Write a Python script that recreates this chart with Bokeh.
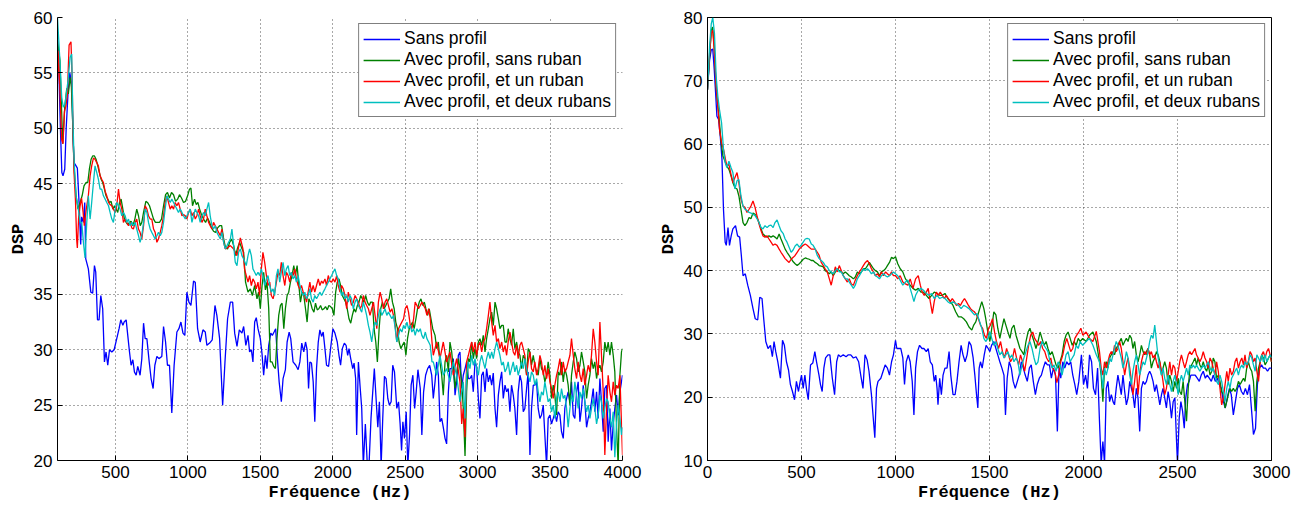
from bokeh.plotting import figure
from bokeh.models import FixedTicker, Legend, LegendItem, Range1d
from bokeh.layouts import row
from bokeh.embed import file_html
from bokeh.resources import INLINE

# ---------------- data ----------------
NAMES = ["Sans profil", "Avec profil, sans ruban", "Avec profil, et un ruban", "Avec profil, et deux rubans"]
COLORS = ["#0000ff", "#008000", "#ff0000", "#00bfbf"]

LEFT_XTICKS = [500, 1000, 1500, 2000, 2500, 3000, 3500, 4000]
LEFT_YTICKS = [20, 25, 30, 35, 40, 45, 50, 55, 60]
RIGHT_XTICKS = [0, 500, 1000, 1500, 2000, 2500, 3000]
RIGHT_YTICKS = [10, 20, 30, 40, 50, 60, 70, 80]

# left panel (frequency Hz, DSP)
L_SANS = [(100,58),(110,55),(120,50),(130,46),(138,45.7),(150,46.3),(160,50),(172,53),(185,55),(198,54),(208,49),(214,46.9),(228,46.6),(237,46.4),(250,43),(260,39.5),(267,42),(279,41.5),(288,43.3),(295,38.2),(313,37.3),(330,35.2),(343,35.1),(355,37.6),(364,37),(376,32.7),(387,32.7),(399,34.9),(412,33.7),(424,28.9),(435,29.8),(447,28.6),(459,30),(475,29.8),(491,30),(509,31),(525,31.9),(537,32.7),(551,32.2),(560,32.5),(574,32.7),(585,31.3),(597,29.8),(608,28.6),(620,29.1),(631,28),(643,27.7),(654,28.5),(670,27.7),(682,29.2),(694,32.4),(705,31),(717,31),(733,28.9),(746,27.4),(760,26.5),(772,28.6),(786,29.4),(800,29.2),(820,29.4),(832,32.1),(846,30.7),(859,28.6),(873,28.6),(889,24.3),(905,28.6),(924,31.6),(938,31.9),(952,32.5),(966,31.5),(979,31.3),(993,35.2),(1007,34.3),(1021,34),(1039,36.2),(1051,36.1),(1067,31.9),(1085,30.7),(1104,31.8),(1120,31.6),(1131,30.4),(1150,30.6),(1168,30.9),(1187,34),(1200,33.1),(1219,31),(1240,25),(1256,28.9),(1274,32.8),(1293,34.3),(1309,34.3),(1323,31.5),(1339,30.3),(1355,31.8),(1373,31.5),(1385,32.1),(1400,30.4),(1415,31.3),(1426,29.8),(1438,30),(1449,28.9),(1461,32.5),(1472,32.9),(1484,31.9),(1500,31),(1512,29.6),(1523,27.7),(1535,29.5),(1546,28.3),(1558,30.4),(1572,31.5),(1583,31.3),(1595,31.6),(1606,31.9),(1618,29.2),(1630,27.1),(1645,25.3),(1657,27.4),(1673,28.2),(1685,30.7),(1699,31.6),(1710,31),(1726,28.9),(1745,28.6),(1761,28.2),(1773,28.9),(1786,30.6),(1800,29.8),(1812,30.7),(1823,30),(1833,26.5),(1842,28.9),(1853,28.8),(1865,27.1),(1876,23.5),(1888,28.3),(1900,30.7),(1911,31.8),(1923,31.2),(1934,31.6),(1946,30.1),(1957,28.6),(1971,28.5),(1985,30.1),(2001,31.9),(2015,31.5),(2031,30.7),(2043,29.5),(2054,28.6),(2066,30.1),(2080,30.6),(2092,30.4),(2103,29.5),(2112,30.1),(2124,29.2),(2138,28.3),(2147,28.8),(2158,27.4),(2165,22.3),(2177,28.9),(2188,26.8),(2200,24.7),(2211,19.5),(2225,23.3),(2239,19.5),(2250,19.5),(2264,23.8),(2276,26.2),(2287,28.3),(2299,25.6),(2311,23),(2322,25.3),(2334,19.5),(2345,23.8),(2357,27.6),(2368,27.4),(2380,25.6),(2391,25),(2403,25.3),(2414,28.6),(2426,28),(2442,24.7),(2454,25.3),(2465,23.3),(2475,20.9),(2484,23.5),(2495,22),(2507,24.4),(2518,19.5),(2530,22.3),(2541,26.8),(2553,27.7),(2565,24.7),(2576,26.2),(2588,28.2),(2604,26.5),(2615,22.3),(2627,26.2),(2641,27.7),(2655,28.3),(2669,28.6),(2683,27.7),(2694,25.6),(2706,27.1),(2717,28.9),(2729,27.7),(2740,23.5),(2752,23.8),(2763,23),(2775,22),(2786,21.5),(2798,26.2),(2809,28.3),(2821,28.3),(2832,29.2),(2844,25.9),(2855,27.1),(2867,29.5),(2878,29.8),(2890,26.5),(2901,27.7),(2913,28.3),(2924,28.9),(2936,27.4),(2947,27.4),(2959,27.7),(2970,26.2),(2982,28.9),(2993,28.5),(3005,25.6),(3016,23.8),(3028,27.7),(3039,28),(3051,26.2),(3062,28.3),(3074,27.1),(3085,27.7),(3097,26.8),(3108,27.9),(3120,24.7),(3131,23),(3143,25.9),(3154,27.1),(3166,28),(3177,25.6),(3189,26.8),(3200,26.2),(3211,26.5),(3223,24.4),(3234,26.8),(3246,25.9),(3257,24.7),(3269,22.3),(3280,26.2),(3292,27.7),(3303,27.1),(3315,24.4),(3326,24.7),(3338,26.5),(3349,28),(3361,20.5),(3372,24.7),(3384,26.8),(3395,26.8),(3407,27.1),(3418,24.7),(3430,23.8),(3441,24.1),(3453,25),(3464,22.3),(3476,19.5),(3487,23.8),(3499,24.1),(3510,23.3),(3522,23.8),(3533,24.3),(3545,23.5),(3556,24.4),(3568,24.1),(3579,22.6),(3591,22),(3602,24.7),(3614,25.6),(3625,26.2),(3637,25.3),(3648,27.1),(3660,24.1),(3671,23.8),(3683,26.2),(3694,27.1),(3706,23.5),(3717,24.7),(3729,26.8),(3740,25.3),(3752,23),(3763,23.8),(3775,24.4),(3786,25.3),(3798,26.5),(3809,24.4),(3821,26.2),(3832,23.8),(3844,27.4),(3855,25.3),(3867,22.6),(3878,26.5),(3890,26.8),(3901,21.7),(3913,24.7),(3924,20.9),(3936,23.3),(3947,24.7),(3959,25.9),(3970,24.1),(3982,26.2),(4000,27.7)]

L_SANS_RUBAN = [(100,57.9),(117,56.1),(136,48.6),(150,51.9),(164,53.6),(175,53.1),(187,54.6),(196,53.7),(205,50.4),(214,46.6),(228,43.9),(242,42.7),(256,43.3),(270,43.9),(283,44.8),(297,45.1),(309,45.1),(320,46.3),(332,47.2),(343,47.5),(355,47.5),(366,47.2),(378,46.6),(389,46),(401,45.4),(412,45.1),(424,44.5),(435,43.9),(447,43.6),(459,43.3),(470,43.4),(482,42.7),(493,43),(505,42.7),(516,42.4),(528,43.3),(539,43.6),(551,42.7),(562,41.8),(574,41.5),(585,41.3),(597,41.5),(608,41.6),(620,41.2),(634,41.8),(647,42.7),(659,42.1),(671,41.2),(682,41.5),(694,42.4),(710,43.4),(721,43.3),(735,43),(749,42.4),(763,41.8),(776,41.5),(790,41.5),(804,41.5),(818,41.8),(832,43),(846,44),(859,44.2),(873,43.7),(887,44.2),(901,44),(915,43.4),(929,43.6),(942,44),(956,43.7),(970,43.3),(984,43.4),(998,43.9),(1011,44.5),(1021,44.6),(1032,43),(1046,43.6),(1058,43.1),(1069,43.3),(1081,42.7),(1094,42.2),(1108,41.8),(1122,41.5),(1136,41.9),(1150,41.5),(1164,41),(1177,40.7),(1191,40.6),(1205,41),(1219,41.2),(1233,41.2),(1247,40),(1260,39.2),(1274,39.1),(1288,39.7),(1302,40),(1316,39.4),(1329,38.5),(1343,39.2),(1357,39.7),(1371,39.2),(1385,38.8),(1398,36.1),(1415,35.2),(1431,35.5),(1445,34.9),(1461,35.8),(1477,34.6),(1488,35.2),(1500,33.7),(1512,35.8),(1523,37),(1535,35.4),(1546,36.1),(1558,33.7),(1569,28.9),(1581,28.9),(1592,28.5),(1604,28.3),(1615,31),(1627,33.1),(1639,34),(1650,34.2),(1662,31.9),(1673,33.7),(1685,34.9),(1696,35.2),(1708,36.1),(1719,36.7),(1731,37.6),(1742,36.7),(1754,37.6),(1766,35.8),(1777,34.3),(1789,35.2),(1800,34.9),(1812,33.7),(1823,32.5),(1835,34.6),(1846,34.3),(1858,33.7),(1870,33.4),(1881,34.2),(1893,33.6),(1904,33.7),(1916,34),(1927,33.6),(1939,33.7),(1950,33.9),(1962,33.6),(1973,34),(1985,33.9),(1997,33.7),(2008,33.1),(2020,35.2),(2031,36.1),(2043,36.4),(2054,35.8),(2066,34.9),(2077,34.6),(2089,34.3),(2100,33.7),(2112,32.8),(2124,32.4),(2135,33.1),(2147,33.7),(2158,33.4),(2170,34),(2181,34.3),(2193,34.9),(2204,34.6),(2216,34.3),(2227,34.9),(2239,34.3),(2251,34),(2262,34.3),(2274,34.3),(2285,31.9),(2297,30.7),(2308,28.9),(2320,31.9),(2331,33.7),(2343,34.3),(2354,33.7),(2366,34),(2377,34.3),(2389,34.6),(2400,35.5),(2412,34.3),(2424,33.7),(2435,32.5),(2447,31.9),(2458,30.7),(2470,30.1),(2481,30.4),(2493,30.7),(2505,29.5),(2516,31),(2528,31.9),(2539,32.2),(2551,32.5),(2562,31.9),(2574,32.8),(2585,33.7),(2597,34.3),(2609,34.6),(2620,34),(2632,34.3),(2643,33.7),(2655,33.1),(2666,33.7),(2678,32.8),(2690,31.9),(2706,31.3),(2717,30.1),(2729,30.7),(2740,28.9),(2752,27.7),(2763,25.9),(2775,28.9),(2786,29.5),(2798,28),(2809,30.7),(2821,29.8),(2832,28.3),(2844,26.5),(2855,27.7),(2867,29.2),(2878,28.3),(2890,27.1),(2901,24.7),(2913,20.4),(2924,26.2),(2936,29.2),(2947,28.9),(2959,30.7),(2970,29.2),(2982,30.1),(2993,29.2),(3005,30.7),(3016,31),(3028,30.4),(3039,31.3),(3051,29.8),(3062,31),(3074,31.9),(3085,32.8),(3097,33.4),(3108,32.2),(3120,34.3),(3131,33.7),(3143,32.8),(3154,31.9),(3166,32.2),(3177,32.2),(3189,30.7),(3200,30.7),(3211,31.9),(3223,31),(3234,30.4),(3246,31.9),(3257,30.1),(3269,30.7),(3280,29.8),(3292,29.5),(3303,28.3),(3315,29.5),(3326,29.2),(3338,27.7),(3349,30.1),(3361,29.8),(3372,28.6),(3384,29.5),(3395,28.6),(3407,28),(3418,27.7),(3430,29.2),(3441,28.3),(3453,28),(3464,27.1),(3476,27.7),(3487,28.9),(3499,27.7),(3510,25.6),(3522,26.8),(3533,25.9),(3545,24.1),(3556,28),(3568,27.7),(3579,28.9),(3591,27.1),(3602,28.3),(3614,27.7),(3625,26.8),(3637,25),(3648,27.7),(3660,28.9),(3671,29.8),(3683,29.2),(3694,28),(3706,28.6),(3717,29.8),(3729,28.9),(3740,28),(3752,25.6),(3763,26.8),(3775,27.7),(3786,29.2),(3798,28.3),(3809,28.9),(3821,27.4),(3832,28.3),(3844,28.6),(3855,28),(3867,28.9),(3878,30.7),(3890,29.8),(3901,30.7),(3913,29.5),(3924,30.7),(3936,29.5),(3947,28),(3959,23),(3970,19.5),(3982,27.7),(3993,29.8),(4000,30.1)]

L_UN_RUBAN = [(100,54),(108,57),(118,53),(128,49),(138,48.6),(148,51.5),(158,52),(168,53),(180,57.5),(193,57.8),(200,55),(207,50),(214,46),(224,43.5),(232,40),(237,39.2),(246,42),(256,43),(266,43.7),(276,42.5),(285,41.2),(290,41.8),(302,43),(313,43.9),(325,45.7),(336,46.6),(348,47.3),(359,47.2),(371,46.9),(382,46.6),(394,45.7),(405,45.4),(417,45.1),(429,44.3),(440,43.9),(452,43.3),(463,43.1),(475,43),(486,42.7),(498,42.4),(509,43),(521,44.5),(532,43.3),(544,42.7),(555,41.5),(567,41.8),(578,41.5),(590,41.2),(601,41.5),(613,41),(624,40.9),(636,41.5),(647,41.8),(659,40.9),(670,40.6),(682,40),(694,41.2),(705,43),(717,42.7),(728,42.1),(740,41.8),(751,41.8),(763,40.9),(774,40.6),(786,39.7),(797,40),(809,40.6),(820,41.2),(832,42.1),(843,43.3),(855,43.9),(866,43.3),(878,42.7),(889,43),(901,42.7),(912,43.3),(924,43),(935,43.3),(947,42.7),(959,42.1),(970,42.2),(982,42.1),(993,41.8),(1005,42.4),(1016,42.7),(1028,42.1),(1039,42.4),(1051,41.8),(1062,42.1),(1074,42.7),(1085,42.1),(1097,41.5),(1108,41.8),(1120,42.7),(1131,42.1),(1143,41.5),(1154,41.2),(1166,40.9),(1177,41.5),(1189,41.2),(1200,40.9),(1212,40.6),(1224,40.3),(1235,40.9),(1247,39.7),(1258,39.1),(1270,39.2),(1293,39.4),(1316,39.1),(1339,38.5),(1362,40.1),(1380,39.1),(1391,37.3),(1403,36.7),(1415,36.1),(1426,36.7),(1438,35.8),(1449,36.4),(1461,36.1),(1472,35.5),(1484,36.1),(1495,34.9),(1507,37.3),(1518,38.8),(1530,37.9),(1542,36.7),(1553,35.8),(1565,36.1),(1576,34.9),(1588,34.6),(1599,35.2),(1611,36.1),(1622,37),(1634,36.7),(1645,37.9),(1657,36.7),(1669,35.8),(1680,37),(1692,36.7),(1703,36.1),(1715,37),(1726,36.7),(1738,37.3),(1749,36.4),(1761,35.8),(1773,35.5),(1784,35.8),(1796,35.2),(1807,34.9),(1819,34.3),(1830,35.2),(1842,36.1),(1853,35.2),(1865,35.8),(1876,35.2),(1888,35.8),(1900,36.4),(1911,35.8),(1923,36.2),(1934,36),(1946,36.4),(1957,35.8),(1969,36.7),(1980,36.2),(1992,36.1),(2003,36.4),(2015,36.1),(2027,36.7),(2038,35.8),(2050,35.2),(2061,35.8),(2073,35.5),(2084,34.9),(2096,33.7),(2107,35.2),(2119,34.6),(2130,34),(2142,34.3),(2154,34.9),(2165,34.6),(2177,34.3),(2188,33.7),(2200,34),(2211,34.9),(2223,34.3),(2234,34),(2246,33.7),(2257,33.1),(2269,33.7),(2281,34.3),(2292,33.1),(2304,31.9),(2315,34.3),(2327,35.2),(2338,34.6),(2350,33.7),(2361,34.3),(2373,34.6),(2384,34),(2396,33.4),(2408,33.7),(2419,33.1),(2431,32.2),(2442,30.7),(2454,31.9),(2465,32.2),(2477,32.5),(2489,32.8),(2500,33.7),(2512,34),(2523,33.4),(2535,32.2),(2546,31.9),(2558,32.8),(2569,34.3),(2581,34),(2592,33.7),(2604,34),(2615,34.3),(2627,34),(2639,33.7),(2650,33.1),(2662,33.7),(2673,32.8),(2685,30.7),(2694,29.5),(2717,30.7),(2740,29.2),(2763,30.7),(2786,28.9),(2809,29.8),(2832,27.7),(2855,29.2),(2878,27.1),(2890,23.3),(2901,24.7),(2913,22.1),(2924,28.9),(2936,29.5),(2947,30.1),(2959,30.7),(2970,29.8),(2982,30.7),(2993,29.5),(3005,30.4),(3016,30.7),(3028,29.8),(3039,30.7),(3051,31),(3062,31.9),(3074,33.1),(3085,34.3),(3097,32.5),(3108,31.3),(3120,32.2),(3131,30.7),(3143,31),(3154,30.1),(3166,30.7),(3177,29.8),(3189,30.4),(3200,29.5),(3211,30.7),(3223,31.6),(3234,30.7),(3246,29.8),(3257,29.5),(3269,30.4),(3280,29.2),(3292,30.4),(3303,30.7),(3315,30.1),(3326,29.5),(3338,27.7),(3349,28.9),(3361,29.8),(3372,28.3),(3384,28),(3395,28.9),(3407,27.7),(3418,28.3),(3430,29.5),(3441,28.9),(3453,27.7),(3464,28.6),(3476,27.4),(3487,28.3),(3499,27.1),(3510,26.5),(3522,25.6),(3533,26.8),(3545,27.7),(3556,28.3),(3568,29.2),(3579,27.7),(3591,28.9),(3602,28),(3614,28.3),(3625,28.9),(3637,29.5),(3648,31),(3660,29.5),(3671,28.3),(3683,27.4),(3694,28.9),(3706,27.7),(3717,27.1),(3729,28.3),(3740,26.8),(3752,27.7),(3763,28.6),(3775,28),(3786,29.5),(3798,31.9),(3809,30.7),(3821,28.9),(3832,27.7),(3844,32.5),(3855,29.5),(3867,26.2),(3878,20.5),(3890,24.7),(3901,27.7),(3913,26.2),(3924,25.3),(3936,27.1),(3947,25.9),(3959,26.8),(3970,26.5),(3982,27.7),(3993,23.3),(4000,20.5)]

L_DEUX_RUBANS = [(100,60),(114,56.7),(129,52.8),(140,51.9),(152,52.2),(164,53.4),(175,54.6),(187,56.4),(198,56.7),(205,51.6),(214,47.2),(228,43.9),(244,42.7),(256,41.5),(267,41.5),(279,39.7),(290,38.3),(302,41.5),(313,43.9),(325,41.8),(336,43.3),(348,45.1),(359,46.6),(371,46),(382,45.4),(394,44.5),(405,44.5),(417,43.9),(429,43.6),(440,43.3),(452,43),(463,42.4),(475,41.8),(486,41.5),(498,42.7),(509,43.3),(521,43),(532,42.7),(544,42.1),(555,42.4),(567,42.1),(578,41.5),(590,41.8),(601,41.2),(613,41.5),(624,41.2),(636,41.5),(647,40.9),(659,40.3),(670,39.7),(682,40.3),(694,41.5),(705,42.7),(717,42.4),(728,41.5),(740,40.9),(751,40.6),(763,40.3),(774,40),(786,40.3),(797,40.6),(809,40.3),(820,40.6),(832,41.5),(843,42.7),(855,43.9),(866,43.6),(878,43.3),(889,43.6),(901,43.3),(912,43),(924,42.7),(935,42.4),(947,42.7),(959,42.4),(970,42.1),(982,41.8),(993,42.1),(1005,42.4),(1016,42.7),(1028,41.5),(1039,42.1),(1051,42.7),(1062,42.4),(1074,42.1),(1085,41.5),(1097,42.1),(1108,42.4),(1120,42.1),(1131,42.7),(1143,43.3),(1154,42.1),(1166,41.2),(1177,40.9),(1189,41.2),(1200,40.6),(1212,40.3),(1224,40),(1235,40.6),(1247,39.7),(1258,39.1),(1270,39.4),(1281,39.7),(1293,40),(1304,40.9),(1316,39.4),(1327,37.9),(1339,37.6),(1350,38.8),(1362,39.1),(1373,38.5),(1385,38.2),(1403,37.6),(1415,38.5),(1426,39.1),(1438,38.5),(1449,37.3),(1461,37),(1472,36.7),(1484,37),(1495,36.7),(1507,37.3),(1518,36.7),(1530,35.8),(1542,36.4),(1553,36.7),(1565,35.8),(1576,35.2),(1588,35.5),(1599,34.9),(1611,36.7),(1622,37.3),(1634,36.1),(1645,37),(1657,37.9),(1669,36.7),(1680,37.3),(1692,37.6),(1703,36.7),(1715,37),(1726,36.4),(1738,36.7),(1749,36.1),(1761,36.7),(1773,35.8),(1784,35.2),(1796,34.9),(1807,35.2),(1819,34.6),(1830,34.9),(1842,35.5),(1853,34.6),(1865,34.3),(1876,34.9),(1888,34.6),(1900,34.9),(1911,35.2),(1923,34.9),(1934,35.2),(1946,35.5),(1957,35.8),(1969,36.1),(1980,36.4),(1992,36.7),(2003,37),(2015,37.3),(2027,36.7),(2038,36.4),(2050,35.5),(2061,34.9),(2073,35.2),(2084,34.6),(2096,34.9),(2107,34.3),(2119,34.9),(2130,34.6),(2142,33.7),(2154,34.3),(2165,34.6),(2177,34),(2188,33.7),(2200,33.4),(2211,34.3),(2223,33.7),(2234,33.1),(2246,32.2),(2257,31.6),(2269,30.7),(2281,31.9),(2292,32.5),(2304,32.2),(2315,33.1),(2327,33.7),(2338,33.1),(2350,33.4),(2361,33.7),(2373,33.1),(2384,33.4),(2396,33.1),(2408,32.8),(2419,33.1),(2431,31.9),(2442,30.7),(2454,31.3),(2465,31.9),(2477,31.6),(2489,32.2),(2500,31.9),(2512,32.5),(2523,31.9),(2535,32.2),(2546,31.6),(2558,31.9),(2569,31.3),(2581,31.9),(2592,31.6),(2604,31.9),(2615,31.3),(2627,31),(2639,31.6),(2650,31),(2662,30.7),(2673,30.4),(2685,28.9),(2694,28.9),(2717,27.7),(2740,29.5),(2763,27.7),(2786,28.3),(2809,27.1),(2832,28.9),(2855,27.7),(2878,25.3),(2901,27.1),(2913,23.8),(2924,27.7),(2936,28.9),(2947,28.3),(2959,29.5),(2970,28.6),(2982,29.2),(2993,28.3),(3005,27.7),(3016,28.9),(3028,29.5),(3039,28.9),(3051,28.3),(3062,29.2),(3074,29.8),(3085,29.2),(3097,29.8),(3108,29.2),(3120,30.1),(3131,30.7),(3143,30.1),(3154,29.5),(3166,28.6),(3177,28.9),(3189,28),(3200,28.3),(3211,28.9),(3223,27.7),(3234,28.3),(3246,28.9),(3257,28),(3269,28.6),(3280,27.7),(3292,28.3),(3303,28.9),(3315,28.3),(3326,29.2),(3338,28.3),(3349,27.7),(3361,27.1),(3372,28),(3384,27.7),(3395,26.8),(3407,27.4),(3418,26.2),(3430,25.3),(3441,26.2),(3453,25.9),(3464,27.1),(3476,26.2),(3487,25.3),(3499,25.6),(3510,24.4),(3522,25),(3533,23.8),(3545,25.6),(3556,26.2),(3568,25.3),(3579,26.5),(3591,25.6),(3602,25.9),(3614,24.7),(3625,23),(3637,24.7),(3648,25.9),(3660,25.3),(3671,27.1),(3683,25.9),(3694,24.7),(3706,26.2),(3717,25.6),(3729,26.5),(3740,25.3),(3752,24.4),(3763,25),(3775,23.8),(3786,24.7),(3798,25.6),(3809,24.7),(3821,23.3),(3832,24.1),(3844,25.9),(3855,25.3),(3867,23.8),(3878,24.7),(3890,25.6),(3901,25.3),(3913,23.8),(3924,23),(3936,24.4),(3947,20.3),(3959,23.3),(3970,25),(3982,23.8),(3993,22.3),(4000,23)]

# right panel (frequency Hz, DSP)
R_SANS = [(0,68.6),(11,73.3),(20,74.9),(28,75),(36,71.7),(43,68.1),(50,64.4),(59,63.9),(68,61.2),(77,57.6),(85,49.7),(94,44.5),(100,44),(109,46.8),(117,44),(126,45.5),(135,46.6),(149,47.1),(160,45.5),(171,45.3),(180,42.4),(189,39.2),(201,39.5),(214,37.7),(228,36.1),(242,34),(254,32.4),(267,32.2),(278,35.8),(290,35.6),(299,32.4),(310,28.8),(322,27.7),(335,28.2),(345,26.4),(354,28.8),(363,27.2),(374,25.6),(388,23),(399,29),(409,28.2),(420,25.6),(431,24.3),(441,22),(452,20.9),(463,19.6),(473,22.5),(484,20.9),(491,22.2),(500,23.5),(509,21.4),(518,23.5),(527,21.2),(536,19.6),(548,25.1),(560,25.4),(571,27.2),(580,25.6),(593,23.5),(601,22),(610,20.9),(619,24.6),(628,26.2),(641,26.7),(651,26.7),(664,23),(676,20.4),(687,25.6),(696,26.7),(708,26.4),(722,26.7),(737,26.4),(749,26.7),(762,26.7),(776,26.2),(790,26.4),(804,25.6),(815,23.5),(827,21.4),(838,26.7),(849,25.9),(859,24.1),(872,20.4),(883,16.2),(890,13.6),(899,21.4),(907,22.5),(922,23),(934,24.1),(945,25.1),(957,24.6),(968,23.5),(979,25.6),(989,26.7),(1000,29),(1007,27.7),(1018,27.7),(1028,27.7),(1039,26.2),(1048,22),(1057,25.6),(1068,26.7),(1078,25.6),(1089,22.5),(1098,17.2),(1107,24.6),(1117,27.2),(1128,28.2),(1141,27.7),(1151,27.7),(1164,27.2),(1174,27.7),(1185,25.6),(1196,25.1),(1206,22.5),(1214,23.5),(1221,21.4),(1226,18.8),(1235,23),(1244,20.4),(1253,23.5),(1263,24.6),(1274,24.6),(1285,27.2),(1294,23.5),(1306,20.4),(1317,20.4),(1327,22.5),(1338,25.6),(1349,28.2),(1359,26.7),(1370,25.6),(1381,26.7),(1391,28.8),(1402,28.2),(1413,26.2),(1422,23.5),(1431,20.4),(1438,18.3),(1445,24.6),(1452,25.6),(1461,24.6),(1472,26.7),(1482,28.2),(1493,27.7),(1502,27.2),(1511,28.2),(1523,28.8),(1534,27.7),(1544,26.7),(1555,25.6),(1566,24.6),(1577,23.5),(1585,17.2),(1594,23),(1605,25.6),(1616,24.6),(1626,22.5),(1637,21.4),(1648,22.5),(1658,23.5),(1669,25.6),(1680,24.6),(1690,23.5),(1701,22.5),(1712,24.6),(1722,25.1),(1733,22.5),(1744,20.4),(1754,22),(1765,23),(1776,23.5),(1786,24.6),(1797,25.6),(1808,25.1),(1819,25.1),(1829,23),(1840,24.6),(1851,23.5),(1861,14.6),(1870,24.6),(1879,23),(1890,25.6),(1900,24.6),(1911,25.6),(1922,25.1),(1932,25.6),(1943,23.5),(1954,22),(1964,20.4),(1975,22.5),(1989,26.7),(2000,22),(2011,23.5),(2021,21.4),(2032,26.7),(2043,25.6),(2053,21.4),(2064,20.4),(2075,24.6),(2085,16.2),(2094,9.5),(2103,13),(2112,9.5),(2121,21.4),(2130,22.5),(2139,19.3),(2148,20.4),(2157,19.3),(2165,18.8),(2174,21.4),(2183,23.5),(2192,22),(2201,20.4),(2210,23.5),(2219,20.9),(2228,18.8),(2237,19.9),(2246,22.5),(2255,21.4),(2263,20.4),(2272,18.3),(2281,21.4),(2290,19.9),(2299,14.6),(2308,21.4),(2317,22.5),(2326,22),(2335,22.5),(2343,23.5),(2352,24.1),(2361,23.5),(2370,22.5),(2379,20.9),(2388,22),(2397,20.4),(2406,18.8),(2415,20.4),(2423,21.4),(2432,19.9),(2441,18.3),(2450,20.9),(2459,19.3),(2468,16.7),(2477,19.3),(2486,19.9),(2495,13),(2500,9.5),(2509,16.7),(2518,19.3),(2527,17.8),(2536,15.1),(2544,19.9),(2553,22),(2562,22.5),(2571,23.5),(2584,23.5),(2594,23.5),(2605,23),(2616,22.5),(2626,23.5),(2637,24.1),(2648,23),(2658,23.5),(2669,23),(2680,22.5),(2690,23.5),(2701,22.5),(2712,23),(2722,22),(2733,21.4),(2744,19.3),(2754,18.3),(2765,19.9),(2776,21.4),(2786,20.4),(2797,17.2),(2808,19.3),(2819,21.4),(2829,22),(2840,20.9),(2851,20.4),(2861,21.4),(2872,20.4),(2883,22),(2893,18.3),(2904,14.1),(2915,15.1),(2925,22),(2936,24.6),(2947,25.1),(2957,24.6),(2968,24.6),(2979,24.1),(2989,24.6),(3000,24.6)]

R_SANS_RUBAN = [(0,68.6),(11,73.8),(20,78),(27,78.5),(36,75.4),(43,70.7),(50,67.5),(61,64.4),(71,60.7),(82,58.1),(93,57.3),(103,56.5),(114,56),(125,55),(135,53.9),(146,53.1),(157,52.9),(167,51.8),(178,49.7),(189,47.6),(199,47.1),(210,47.6),(221,48.4),(231,48.2),(242,49.1),(253,48.9),(263,48.4),(274,47.6),(285,46.6),(295,45.8),(306,45.5),(317,45.3),(327,45.5),(338,45.3),(349,45.5),(359,45.3),(370,45),(381,45.8),(391,45),(402,44.2),(413,43.4),(423,42.9),(434,42.4),(445,41.9),(456,41.4),(466,41.1),(477,40.8),(488,41.1),(498,41.4),(509,41.8),(520,42),(530,41.9),(541,41.8),(552,41.6),(562,41.6),(573,41.3),(584,41.1),(594,40.8),(605,40.7),(616,40.6),(626,40),(637,39.8),(648,39.5),(658,39.8),(669,39.2),(680,39.8),(690,40.3),(701,40),(712,39.8),(722,39.5),(733,39.8),(744,39.5),(754,39.2),(765,39),(776,38.7),(786,39),(797,39.8),(808,39.5),(819,39.8),(829,40.3),(840,40.3),(851,40.8),(861,41.3),(872,40.8),(883,40.3),(893,40),(904,39.8),(915,39.2),(925,39.8),(936,40),(947,40.3),(957,40.8),(968,41.3),(979,42.1),(989,41.9),(1000,42.2),(1012,41.1),(1025,40.3),(1039,39.8),(1053,38.7),(1066,38.2),(1078,37.7),(1093,37.2),(1107,36.9),(1121,37.2),(1135,36.6),(1149,36.6),(1164,36.1),(1178,35.6),(1192,36.1),(1206,36.6),(1221,36.4),(1235,36.1),(1249,36.1),(1263,36.4),(1278,35.6),(1292,35.1),(1306,34.5),(1320,33.5),(1335,32.7),(1349,32.7),(1363,32.4),(1377,31.9),(1391,31.1),(1406,30.6),(1416,31.4),(1427,31.9),(1438,33),(1448,34),(1459,35.1),(1470,34),(1480,32.4),(1491,30.3),(1502,28.8),(1512,30.9),(1523,33.5),(1534,33),(1544,30.9),(1555,29.3),(1566,30.9),(1577,32.4),(1587,31.4),(1598,30.3),(1609,29.3),(1619,30.9),(1630,31.4),(1641,29.8),(1651,28.8),(1662,27.7),(1673,27.2),(1683,26.7),(1694,28.8),(1705,30.3),(1715,30.9),(1726,29.8),(1737,28.8),(1747,27.7),(1758,28.8),(1769,30.3),(1779,29.3),(1790,28.2),(1801,28.8),(1811,27.7),(1822,26.7),(1833,27.2),(1843,26.2),(1854,25.1),(1865,24.6),(1875,25.6),(1886,26.7),(1897,28.8),(1907,29.8),(1918,30.3),(1929,29.3),(1940,28.2),(1950,28.8),(1961,28.2),(1972,29.3),(1982,28.8),(1996,29.3),(2014,28.8),(2032,29.8),(2050,30.3),(2068,28.8),(2085,25.6),(2094,23.5),(2103,19.3),(2112,24.6),(2121,25.6),(2130,24.6),(2139,26.2),(2148,26.7),(2157,27.2),(2165,26.7),(2174,27.7),(2183,28.2),(2192,28.8),(2201,29.3),(2210,28.2),(2219,28.8),(2228,29.3),(2237,28.8),(2246,29.8),(2255,29.3),(2263,27.7),(2272,28.8),(2281,26.7),(2290,25.6),(2299,26.7),(2308,28.2),(2317,27.2),(2326,26.7),(2335,27.2),(2343,27.7),(2352,26.7),(2361,24.6),(2370,25.6),(2379,26.2),(2388,27.2),(2397,26.7),(2406,25.6),(2415,23.5),(2423,24.6),(2432,25.6),(2441,24.6),(2450,22),(2459,23.5),(2468,22.5),(2477,20.9),(2486,22.5),(2495,21.4),(2504,23),(2512,20.9),(2521,20.4),(2530,22.5),(2539,19.3),(2548,16.2),(2557,21.4),(2566,24.6),(2575,25.1),(2584,25.6),(2593,26.2),(2601,25.1),(2610,26.2),(2619,25.1),(2628,24.6),(2637,25.6),(2646,24.6),(2655,24.1),(2664,25.1),(2673,23.5),(2682,24.1),(2690,26.2),(2699,25.6),(2708,23),(2717,23.5),(2726,22.5),(2735,20.9),(2744,20.4),(2753,18.3),(2762,19.3),(2770,20.4),(2779,21.4),(2788,20.9),(2797,21.4),(2806,20.9),(2815,21.4),(2824,22.5),(2833,22),(2842,22.5),(2851,23),(2859,22.5),(2868,24.6),(2877,25.6),(2886,24.6),(2895,24.1),(2904,22.5),(2913,17.8),(2922,22.5),(2931,24.6),(2940,25.6),(2948,26.7),(2957,26.2),(2966,25.1),(2975,25.6),(2984,26.2),(2993,26.7),(3000,25.6)]

R_UN_RUBAN = [(0,68.6),(11,74.3),(20,77.5),(28,78),(37,74.3),(46,69.1),(55,66),(64,62.3),(75,60.2),(85,59.2),(94,57.8),(103,56.5),(114,56.8),(125,55.2),(135,53.9),(146,54.7),(157,55.5),(167,53.9),(178,51.3),(189,50.2),(199,50),(210,49.2),(221,49.7),(231,50.2),(242,51),(253,50),(263,48.7),(274,47.4),(285,46.3),(295,45.5),(306,45.3),(317,45.5),(327,45),(338,44.5),(349,44),(359,44.2),(370,44),(381,43.4),(391,42.9),(402,42.4),(413,41.9),(423,41.6),(434,41.3),(445,41.8),(456,42.1),(466,42.4),(477,42.9),(488,43.4),(498,43.7),(509,44),(520,44.2),(530,44),(541,43.7),(552,43.4),(562,43.4),(573,43.4),(584,42.9),(594,42.4),(605,41.3),(616,40.8),(626,40.3),(637,39.8),(648,38.7),(658,37.7),(669,39.2),(680,40.6),(690,39.8),(701,40.8),(712,40),(722,39.2),(733,38.7),(744,38.2),(754,38.7),(765,37.9),(776,37.7),(786,38.5),(797,39.2),(808,39.8),(819,40.3),(829,40.8),(840,41.3),(851,41.6),(861,41.1),(872,40.3),(883,39.8),(893,39.2),(904,39.5),(915,39),(925,39.8),(936,39.2),(947,39.8),(957,39.5),(968,39.2),(979,39.8),(989,39.2),(1000,39.2),(1012,38.7),(1025,39.2),(1039,38.2),(1053,37.9),(1066,37.7),(1078,38.7),(1093,37.2),(1107,38.7),(1121,39.2),(1132,37.7),(1142,36.6),(1153,36.1),(1164,36.6),(1174,37.2),(1185,35.1),(1196,33.2),(1206,35.1),(1217,36.6),(1228,36.1),(1238,36.6),(1249,36.1),(1260,35.6),(1270,36.1),(1281,35.6),(1292,35.1),(1302,35.6),(1313,35.1),(1324,34.5),(1335,34.8),(1345,34.5),(1356,35.1),(1367,35.6),(1377,35.1),(1388,34.5),(1399,34),(1409,33.7),(1420,33.5),(1431,33),(1441,32.4),(1452,31.4),(1463,30.9),(1473,29.8),(1484,29.3),(1495,30.9),(1505,31.4),(1516,32.4),(1527,30.3),(1537,28.8),(1548,27.7),(1559,28.8),(1569,27.2),(1580,26.2),(1591,27.7),(1601,26.7),(1612,25.6),(1623,26.2),(1633,27.7),(1644,26.2),(1655,25.1),(1665,26.7),(1676,25.6),(1687,24.1),(1698,26.2),(1708,28.2),(1719,29.8),(1730,30.3),(1740,29.3),(1751,28.8),(1762,28.2),(1772,28.8),(1783,27.7),(1794,27.2),(1804,26.2),(1815,25.6),(1826,26.2),(1836,24.6),(1847,24.1),(1858,22.3),(1868,23.5),(1879,25.6),(1890,26.7),(1900,28.2),(1911,29.3),(1922,28.2),(1932,27.2),(1943,27.7),(1954,29.3),(1964,29.8),(1975,30.3),(1986,30.9),(1996,29.8),(2014,30.3),(2032,29.3),(2050,28.8),(2068,30.4),(2085,27.2),(2094,24.6),(2103,23.5),(2112,25.6),(2121,24.6),(2130,25.6),(2139,26.7),(2148,27.2),(2157,26.7),(2165,28.2),(2174,27.2),(2183,27.7),(2192,28.8),(2201,27.7),(2210,25.6),(2219,23.5),(2228,25.1),(2237,26.2),(2246,24.6),(2255,22.5),(2263,20.4),(2272,22.5),(2281,25.1),(2290,20.4),(2299,23.5),(2308,25.6),(2317,26.7),(2326,27.2),(2335,26.7),(2343,27.7),(2352,26.7),(2361,27.2),(2370,26.2),(2379,26.7),(2388,25.6),(2397,24.6),(2406,25.6),(2415,24.1),(2423,22.5),(2432,20.4),(2441,21.4),(2450,23.5),(2459,25.6),(2468,23.5),(2477,25.1),(2486,24.6),(2495,22.5),(2504,24.1),(2512,25.6),(2521,26.7),(2530,25.6),(2539,24.6),(2548,25.6),(2557,26.7),(2566,27.2),(2575,26.7),(2584,27.2),(2593,27.7),(2601,26.7),(2610,26.2),(2619,25.6),(2628,26.2),(2637,27.2),(2646,26.2),(2655,25.6),(2664,24.6),(2673,26.2),(2682,25.6),(2690,24.6),(2699,23.5),(2708,25.6),(2717,24.1),(2726,21.4),(2735,18.8),(2744,19.9),(2753,22),(2762,24.1),(2770,22.5),(2779,24.6),(2788,23.5),(2797,24.1),(2806,25.6),(2815,26.2),(2824,24.6),(2833,25.6),(2842,26.2),(2851,25.1),(2859,26.7),(2868,24.6),(2877,25.6),(2886,27.2),(2895,26.7),(2904,25.6),(2913,26.2),(2922,24.1),(2931,22.5),(2940,25.6),(2948,26.7),(2957,27.2),(2966,26.2),(2975,27.2),(2984,27.7),(2993,26.7),(3000,25.6)]

R_DEUX_RUBANS = [(0,68.6),(11,75.4),(20,79),(28,80),(37,77.5),(46,70.7),(55,67.5),(64,65.4),(75,63.3),(85,59.2),(94,57.1),(103,56.3),(114,57.3),(125,56.3),(135,55.5),(146,52.9),(157,54.2),(167,54.4),(178,51.8),(189,50.2),(199,49.7),(210,49.5),(221,49.2),(231,49.1),(242,48.9),(253,48.7),(263,48.2),(274,47.6),(285,46.8),(295,46.6),(306,47.1),(317,46.8),(327,47.1),(338,47.2),(349,46.8),(359,47.6),(370,48),(381,47.1),(391,46.3),(402,45.9),(413,45),(423,44.5),(434,43.7),(445,42.9),(456,43.3),(466,43.9),(477,44.2),(488,43.7),(498,44),(509,44.5),(520,45),(530,45.1),(541,45),(552,44.2),(562,44),(573,43.4),(584,42.4),(594,41.9),(605,41.6),(616,41.3),(626,40.8),(637,40.6),(648,40),(658,39.8),(669,39.5),(680,40),(690,40.3),(701,39.8),(712,39.8),(722,39.2),(733,38.7),(744,38.7),(754,38.2),(765,37.7),(776,37.2),(786,37.7),(797,38.7),(808,39.2),(819,39.8),(829,40.3),(840,40),(851,40.3),(861,40),(872,39.5),(883,39.8),(893,39.2),(904,39),(915,38.7),(925,39.2),(936,39.5),(947,39.2),(957,39),(968,39.2),(979,39.5),(989,39.8),(1000,39.5),(1012,39.2),(1025,38.5),(1039,37.7),(1053,38.2),(1066,38.5),(1078,37.2),(1089,36.1),(1098,35.1),(1107,36.1),(1121,36.9),(1135,37.2),(1149,36.9),(1164,36.4),(1178,36.1),(1192,36.4),(1206,35.6),(1221,36.1),(1235,35.6),(1249,35.8),(1263,35.6),(1278,35.1),(1292,34.8),(1306,35.1),(1320,34.8),(1335,34.5),(1349,34),(1363,34.5),(1377,34.3),(1391,34),(1406,33.5),(1420,33),(1434,33.2),(1448,31.9),(1459,30.9),(1470,29.3),(1480,28.8),(1491,29.3),(1502,30.3),(1512,29.3),(1523,28.2),(1534,28.8),(1544,27.7),(1555,26.7),(1566,27.2),(1577,26.2),(1587,26.7),(1598,27.2),(1609,26.2),(1619,26.7),(1630,25.6),(1641,26.2),(1651,25.6),(1662,23.5),(1673,25.1),(1683,26.2),(1694,27.2),(1705,28.2),(1715,28.8),(1726,27.7),(1737,26.2),(1747,25.1),(1758,25.6),(1769,27.7),(1779,28.8),(1790,28.2),(1801,27.7),(1811,27.2),(1822,25.6),(1833,24.6),(1843,25.1),(1854,24.1),(1865,25.6),(1875,25.1),(1886,23.5),(1897,25.1),(1907,26.7),(1918,27.2),(1929,25.6),(1940,26.2),(1950,26.7),(1961,28.2),(1972,27.7),(1982,28.8),(1996,28.2),(2014,28.8),(2032,29.3),(2050,28.2),(2068,26.7),(2085,25.6),(2094,24.1),(2103,21.4),(2112,24.6),(2121,23.5),(2130,24.6),(2139,26.2),(2148,25.6),(2157,26.7),(2165,27.7),(2174,28.8),(2183,28.2),(2192,27.2),(2201,26.2),(2210,24.6),(2219,25.6),(2228,27.2),(2237,26.2),(2246,23.5),(2255,22),(2263,24.1),(2272,25.6),(2281,26.7),(2290,25.1),(2299,23.5),(2308,24.6),(2317,25.6),(2326,25.1),(2335,26.2),(2343,27.2),(2352,28.8),(2361,29.8),(2370,29.3),(2379,31.4),(2388,28.8),(2397,26.2),(2406,24.6),(2415,23.5),(2423,24.6),(2432,23),(2441,22),(2450,23.5),(2459,22),(2468,20.9),(2477,22.5),(2486,23.5),(2495,22),(2504,20.4),(2512,22.5),(2521,23.5),(2530,22.5),(2539,23.5),(2548,24.6),(2557,23.5),(2566,25.1),(2575,24.6),(2584,25.1),(2593,24.6),(2601,25.1),(2610,24.6),(2619,24.1),(2628,24.6),(2637,25.1),(2646,24.6),(2655,25.1),(2664,25.6),(2673,24.6),(2682,24.1),(2690,24.6),(2699,23.5),(2708,22.5),(2717,22),(2726,23.5),(2735,22.5),(2744,20.9),(2753,19.3),(2762,21.4),(2770,22.5),(2779,21.4),(2788,23),(2797,23.5),(2806,24.1),(2815,24.6),(2824,23.5),(2833,24.6),(2842,25.1),(2851,24.6),(2859,25.6),(2868,25.1),(2877,25.6),(2886,26.7),(2895,26.2),(2904,25.1),(2913,24.1),(2922,26.7),(2931,26.2),(2940,25.6),(2948,26.7),(2957,25.6),(2966,26.7),(2975,25.6),(2984,26.2),(2993,26.7),(3000,26.2)]

LEFT_SERIES = [L_SANS, L_SANS_RUBAN, L_UN_RUBAN, L_DEUX_RUBANS]
RIGHT_SERIES = [R_SANS, R_SANS_RUBAN, R_UN_RUBAN, R_DEUX_RUBANS]

TICK_FONT = "Liberation Sans"
LABEL_FONT = "Liberation Mono"
FIG_HEIGHT = 504


def style_axis(ax, ticks):
    ax.ticker = FixedTicker(ticks=ticks)
    ax.major_tick_in = 5
    ax.major_tick_out = 0
    ax.minor_tick_in = 0
    ax.minor_tick_out = 0
    ax.axis_line_color = "black"
    ax.axis_line_width = 1
    ax.major_tick_line_color = "black"
    ax.major_label_text_font = TICK_FONT
    ax.major_label_text_color = "black"
    ax.major_label_text_font_size = "17px"
    ax.axis_label_text_font = LABEL_FONT
    ax.axis_label_text_font_style = "bold"
    ax.axis_label_text_font_size = "17px"
    ax.axis_label_text_color = "black"


def make_panel(series, xr, yr, xticks, yticks, width, bl, br, boxed):
    p = figure(width=width, height=FIG_HEIGHT, x_range=Range1d(*xr), y_range=Range1d(*yr),
               output_backend="svg", toolbar_location=None,
               min_border_left=bl, min_border_right=br, min_border_top=17, min_border_bottom=41,
               background_fill_color="white", border_fill_color="white")
    style_axis(p.xaxis[0], xticks)
    style_axis(p.yaxis[0], yticks)
    p.xaxis[0].axis_label = "Fréquence (Hz)"
    p.xaxis[0].major_label_standoff = 5
    p.xaxis[0].axis_label_standoff = 2
    p.yaxis[0].axis_label = "DSP"
    p.yaxis[0].major_label_standoff = 5
    p.yaxis[0].axis_label_standoff = 3

    for g, t in ((p.xgrid[0], xticks), (p.ygrid[0], yticks)):
        g.ticker = FixedTicker(ticks=t)
        g.grid_line_color = "#333333"
        g.grid_line_dash = "1 3"
        g.grid_line_width = 1
        g.grid_line_alpha = 0.85

    if boxed:
        p.outline_line_color = "black"
        p.outline_line_width = 1
    else:
        p.outline_line_color = None

    items = []
    for data, color, name in zip(series, COLORS, NAMES):
        f = [d[0] for d in data]
        v = [d[1] for d in data]
        r = p.line(f, v, line_color=color, line_width=1.3)
        items.append(LegendItem(label=name, renderers=[r]))

    leg = Legend(items=items, location="top_right", margin=6, padding=4, spacing=0,
                 label_text_font=TICK_FONT, label_text_font_size="17.5px", label_text_color="black",
                 glyph_width=37, glyph_height=20, label_height=20, label_standoff=4,
                 border_line_color="black", border_line_width=1.5,
                 background_fill_color="white", background_fill_alpha=1.0)
    p.add_layout(leg)
    return p


p1 = make_panel(LEFT_SERIES, (100, 4000), (20, 60), LEFT_XTICKS, LEFT_YTICKS, 652, 57, 30, False)
p2 = make_panel(RIGHT_SERIES, (0, 3000), (10, 80), RIGHT_XTICKS, RIGHT_YTICKS, 646, 55, 27, True)

layout = row(p1, p2, spacing=0)
open("out.html", "w").write(file_html(layout, INLINE))
